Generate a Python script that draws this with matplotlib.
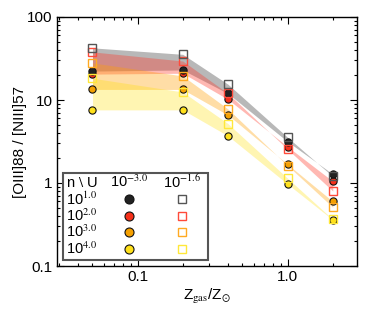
import matplotlib
matplotlib.use("Agg")
import matplotlib.pyplot as plt
import numpy as np
from matplotlib.patches import Rectangle
from matplotlib.ticker import LogLocator, NullFormatter

plt.rcParams['font.family'] = ['Liberation Sans', 'DejaVu Sans']
plt.rcParams['mathtext.fontset'] = 'stix'

Z = [0.05, 0.2, 0.4, 1.0, 2.0]
dens_labels = [r'10$^{1.0}$', r'10$^{2.0}$', r'10$^{3.0}$', r'10$^{4.0}$']
U_labels = [r'10$^{-3.0}$', r'10$^{-1.6}$']

# ratio for U = 10^-3.0 (circles), per density
low_U = {
    'n1': [22.3, 23.0, 12.0, 3.15, 1.28],
    'n2': [20.5, 21.0, 10.2, 2.74, 1.05],
    'n3': [13.4, 13.4, 6.6, 1.68, 0.60],
    'n4': [7.6, 7.6, 3.7, 0.97, 0.36],
}
# ratio for U = 10^-1.6 (squares), per density
high_U = {
    'n1': [42.5, 35.5, 15.5, 3.55, 1.20],
    'n2': [38.0, 29.5, 12.0, 2.55, 0.80],
    'n3': [28.0, 19.5, 7.8, 1.62, 0.51],
    'n4': [18.3, 12.5, 5.2, 1.14, 0.365],
}
keys = ['n1', 'n2', 'n3', 'n4']
circ_colors = ['#222222', '#f5301a', '#f5a000', '#ffe01a']
sq_colors = ['#555555', '#ff4a3a', '#ffaa22', '#ffe83a']
band_colors = ['#000000', '#ff3b2b', '#ffa000', '#ffe000']
band_alpha = [0.28, 0.36, 0.35, 0.3]

fig = plt.figure(figsize=(3.66, 3.13), dpi=100)
ax = fig.add_axes([57/366, 1-266/313, 300/366, 249/313])
ax.set_xscale('log')
ax.set_yscale('log')

for i, k in enumerate(keys):
    ax.fill_between(Z, low_U[k], high_U[k], color=band_colors[i], alpha=band_alpha[i],
                    lw=0, zorder=1 + i * 0.1)
for i in reversed(range(4)):
    k = keys[i]
    ax.plot(Z, low_U[k], 'o', ms=5.2, mfc=circ_colors[i], mec='#111111', mew=0.8, zorder=3)
    ax.plot(Z, high_U[k], 's', ms=5.2, mfc='none', mec=sq_colors[i], mew=1.0, zorder=4)

ax.set_xlim(0.029, 2.9)
ax.set_ylim(0.1, 100)
ax.set_xticks([0.1, 1.0])
ax.set_xticklabels(['0.1', '1.0'])
ax.set_yticks([0.1, 1, 10, 100])
ax.set_yticklabels(['0.1', '1', '10', '100'])
ax.xaxis.set_minor_locator(LogLocator(base=10, subs=np.arange(2, 10)))
ax.yaxis.set_minor_locator(LogLocator(base=10, subs=np.arange(2, 10)))
ax.xaxis.set_minor_formatter(NullFormatter())
ax.yaxis.set_minor_formatter(NullFormatter())
ax.tick_params(which='both', direction='in', top=True, right=True, labelsize=11, width=0.8)
ax.tick_params(which='major', length=5, pad=3)
ax.tick_params(which='minor', length=2.5)
for s in ax.spines.values():
    s.set_linewidth(1.0)

ax.set_ylabel('[OIII]88 / [NIII]57', fontsize=11, labelpad=0)
ax.set_xlabel(r'Z$_{\rm gas}$/Z$_{\odot}$', fontsize=11, labelpad=2)

# legend table
tr = ax.transAxes
ax.add_patch(Rectangle((0.02, 0.024), 0.483, 0.349, transform=tr, fill=True, fc='white',
                       ec='#555555', lw=1.5, zorder=5))
row_y = [(266 - y) / 249 for y in [183.3, 199.3, 215.7, 232.0, 248.5]]
col_lab = (66 - 57) / 300
col_c = (129.3 - 57) / 300
col_s = (182 - 57) / 300
fs = 10.5
ax.text(col_lab, row_y[0], r'n $\backslash$ U', transform=tr, fontsize=fs, va='center', ha='left', zorder=6)
ax.text(col_c, row_y[0] + 0.005, U_labels[0], transform=tr, fontsize=fs, va='center', ha='center', zorder=6)
ax.text(col_s, row_y[0] + 0.005, U_labels[1], transform=tr, fontsize=fs, va='center', ha='center', zorder=6)
for i in range(4):
    ax.text(col_lab, row_y[i + 1], dens_labels[i], transform=tr, fontsize=fs, va='center', ha='left', zorder=6)
    ax.plot([col_c], [row_y[i + 1]], 'o', ms=6.5, mfc=circ_colors[i], mec='#111111', mew=0.8,
            transform=tr, zorder=6, clip_on=False)
    ax.plot([col_s], [row_y[i + 1]], 's', ms=6.0, mfc='none', mec=sq_colors[i], mew=1.0,
            transform=tr, zorder=6, clip_on=False)

fig.savefig('out.png', dpi=100)
